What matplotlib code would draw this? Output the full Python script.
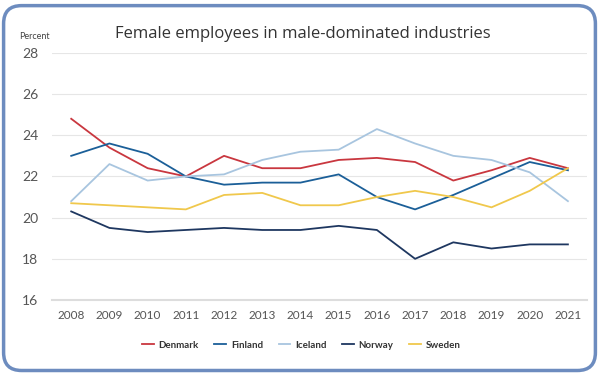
import matplotlib.pyplot as plt
from matplotlib.patches import FancyBboxPatch

# Data
years = list(range(2008, 2022))
denmark = [24.8, 23.4, 22.4, 22.0, 23.0, 22.4, 22.4, 22.8, 22.9, 22.7, 21.8, 22.3, 22.9, 22.4]
finland = [23.0, 23.6, 23.1, 22.0, 21.6, 21.7, 21.7, 22.1, 21.0, 20.4, 21.1, 21.9, 22.7, 22.3]
iceland = [20.8, 22.6, 21.8, 22.0, 22.1, 22.8, 23.2, 23.3, 24.3, 23.6, 23.0, 22.8, 22.2, 20.8]
norway = [20.3, 19.5, 19.3, 19.4, 19.5, 19.4, 19.4, 19.6, 19.4, 18.0, 18.8, 18.5, 18.7, 18.7]
sweden = [20.7, 20.6, 20.5, 20.4, 21.1, 21.2, 20.6, 20.6, 21.0, 21.3, 21.0, 20.5, 21.3, 22.4]

series = [
    ('Denmark', denmark, '#c9373f'),
    ('Finland', finland, '#1b5f98'),
    ('Iceland', iceland, '#a8c5df'),
    ('Norway', norway, '#1e3760'),
    ('Sweden', sweden, '#f0c84c'),
]
yticks = [16, 18, 20, 22, 24, 26, 28]

plt.rcParams['font.family'] = ['Lato', 'DejaVu Sans']

fig = plt.figure(figsize=(5.99, 3.75), dpi=100)
ax = fig.add_axes([0.087, 0.2, 0.893, 0.659])

for name, vals, col in series:
    ax.plot(years, vals, color=col, linewidth=1.3, label=name)

ax.set_xlim(2007.5, 2021.5)
ax.set_ylim(16, 28)
ax.set_xticks(years)
ax.set_yticks(yticks)
ax.tick_params(axis='both', length=0, colors='#555555')
ax.tick_params(axis='y', labelsize=10, pad=10)
ax.tick_params(axis='x', labelsize=8.5, pad=7)
ax.grid(axis='y', color='#e6e6e6', linewidth=0.8)
ax.set_axisbelow(True)
for s in ['top', 'right', 'left']:
    ax.spines[s].set_visible(False)
ax.spines['bottom'].set_color('#dddddd')
ax.spines['bottom'].set_linewidth(1.5)

fig.text(0.505, 0.91, 'Female employees in male-dominated industries',
         ha='center', va='center', fontsize=12, color='#333333',
         family=['Open Sans', 'DejaVu Sans'])
fig.text(0.058, 0.903, 'Percent', ha='center', va='center', fontsize=6.5, color='#444444')

leg = fig.legend(loc='center', bbox_to_anchor=(0.503, 0.08), ncol=5, frameon=False,
                 handlelength=1.2, columnspacing=1.6, handletextpad=0.5,
                 prop={'size': 7, 'weight': 'bold'})
for t in leg.get_texts():
    t.set_color('#333333')

border = FancyBboxPatch((0.006, 0.012), 0.988, 0.973, boxstyle='round,pad=0,rounding_size=0.03',
                        transform=fig.transFigure, facecolor='none', edgecolor='#6d8cbf',
                        linewidth=2.5, mutation_aspect=599 / 375)
fig.patches.append(border)

fig.savefig('out.png', dpi=100)
